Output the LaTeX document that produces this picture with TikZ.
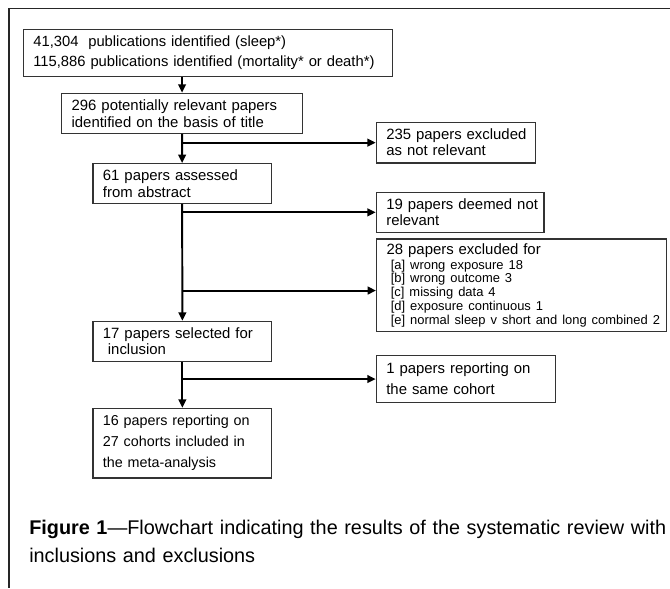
\documentclass[tikz,border=0pt]{standalone}
\usepackage{fontspec}
\setmainfont{Liberation Sans}
\usetikzlibrary{arrows.meta, positioning}

\tikzset{
  box/.style={draw=black!80, line width=0.9pt, align=left, anchor=north west,
    inner xsep=0.1cm, inner ysep=0pt, font=\fontsize{10.6}{12}\selectfont,
    execute at begin node={\leftskip=0.15cm\hyphenpenalty=10000}},
  flow/.style={line width=1.4pt, -{Triangle[length=6pt,width=5.5pt]}},
}

\begin{document}
\begin{tikzpicture}[x=0.025cm, y=-0.025cm]
\useasboundingbox (0,0) rectangle (670,588);
% frame
\draw[line width=1pt, black!85] (670,8.5) -- (9,8.5) -- (9,588);

% main column
\node[box, text width=9.03cm, minimum height=1.18cm, font=\fontsize{10.5}{14.2}\selectfont] (search) at (22.7,28.7)
  {41,304~ publications identified (sleep*)\\115,886 publications identified (mortality* or death*)\par};
\node[box, text width=5.82cm, minimum height=1cm] (title) at (61,92.7)
  {296 potentially relevant papers\\identified on the basis of title\par};
\node[box, text width=4.26cm, minimum height=0.99cm] (abstract) at (92.3,163)
  {61 papers assessed\\from abstract\par};
\node[box, text width=4.27cm, minimum height=1cm, font=\fontsize{10.6}{11.8}\selectfont] (selected) at (92.3,320.7)
  {17 papers selected for\\~inclusion\par};
\node[box, text width=4.27cm, minimum height=1.74cm, font=\fontsize{10.2}{15}\selectfont] (final) at (92.3,407.7)
  {16 papers reporting on\\27 cohorts included in\\the meta-analysis\par};

% exclusions
\node[box, text width=3.78cm, minimum height=1.015cm, font=\fontsize{10.6}{11.4}\selectfont] (notrel) at (375.7,121.7)
  {235 papers excluded\\as not relevant\par};
\node[box, text width=3.99cm, minimum height=1cm, font=\fontsize{10.6}{11.4}\selectfont] (deemed) at (375.7,191.7)
  {19 papers deemed not\\relevant\par};
\node[box, text width=7.05cm, minimum height=2.32cm] (reasons) at (376,238.3)
  {28 papers excluded for\\[0.5pt]
   \fontsize{9.2}{9.8}\selectfont
   \hspace*{3pt}[a] wrong exposure 18\\
   \hspace*{3pt}[b] wrong outcome 3\\
   \hspace*{3pt}[c] missing data 4\\
   \hspace*{3pt}[d] exposure continuous 1\\
   \hspace*{3pt}[e] normal sleep v short and long combined 2\par};
\node[box, text width=4.28cm, minimum height=1.17cm, font=\fontsize{10.6}{15}\selectfont] (cohort) at (375.7,355)
  {1 papers reporting on\\the same cohort\par};
\coordinate (reasonsin) at ([yshift=-0.13cm]reasons.west);

% arrows
\draw[flow] (title.north |- search.south) -- (title.north);
\draw[flow] (title.south) -- (abstract.north);
\draw[flow] (title.south |- notrel.west) -- (notrel.west);
\draw[flow] (abstract.south) -- (selected.north);
\draw[flow] (abstract.south |- deemed.west) -- (deemed.west);
\draw[flow] (abstract.south |- reasonsin) -- (reasonsin);
\draw[flow] (selected.south) -- (final.north);
\draw[flow] (selected.south |- cohort.west) -- (cohort.west);

% caption
\node[anchor=north west, align=left, inner sep=0pt, text width=17cm, font=\fontsize{14.1}{19.9}\selectfont] (caption) at (29,520)
  {{\bfseries Figure 1}---Flowchart indicating the results of the systematic review with\\inclusions and exclusions\par};
\end{tikzpicture}
\end{document}
